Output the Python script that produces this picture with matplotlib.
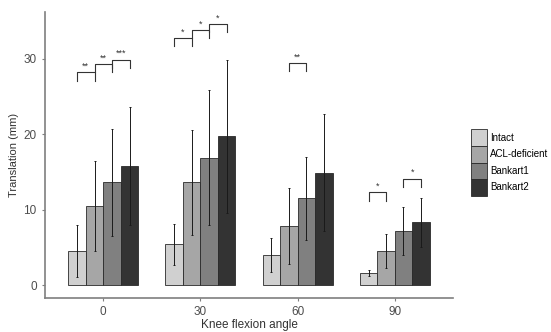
import numpy as np
import matplotlib.pyplot as plt
from matplotlib.patches import Patch

plt.rcParams['font.family'] = ['Liberation Sans', 'DejaVu Sans']

angles = ['0', '30', '60', '90']
groups = ['Intact', 'ACL-deficient', 'Bankart1', 'Bankart2']
colors = ['#d0d0d0', '#a6a6a6', '#808080', '#333333']

intact = [4.45, 5.4, 4.0, 1.6]
acl = [10.45, 13.6, 7.8, 4.5]
bankart1 = [13.6, 16.9, 11.5, 7.2]
bankart2 = [15.8, 19.7, 14.9, 8.3]

intact_sd = [3.45, 2.7, 2.3, 0.45]
acl_sd = [6.0, 7.0, 5.0, 2.25]
bankart1_sd = [7.1, 9.0, 5.5, 3.2]
bankart2_sd = [7.8, 10.2, 7.8, 3.25]

# (angle index, left bar, right bar, bracket height, label)
brackets = [
    (0, 0, 1, 28.2, '**'),
    (0, 1, 2, 29.3, '**'),
    (0, 2, 3, 29.9, '***'),
    (1, 0, 1, 32.75, '*'),
    (1, 1, 2, 33.8, '*'),
    (1, 2, 3, 34.6, '*'),
    (2, 1, 2, 29.45, '**'),
    (3, 0, 1, 12.3, '*'),
    (3, 2, 3, 14.1, '*'),
]

means = [intact, acl, bankart1, bankart2]
sds = [intact_sd, acl_sd, bankart1_sd, bankart2_sd]

fig = plt.figure(figsize=(5.51, 3.32), dpi=100)
ax = fig.add_axes([0.0817, 0.1033, 0.7405, 0.8606])

x = np.arange(1, len(angles) + 1)
width = 0.18
offsets = (np.arange(4) - 1.5) * width

for i in range(4):
    ax.bar(x + offsets[i], means[i], width, color=colors[i],
           edgecolor='#2a2a2a', linewidth=0.6, label=groups[i], zorder=2)
    ax.errorbar(x + offsets[i], means[i], yerr=sds[i], fmt='none',
                ecolor='#1a1a1a', elinewidth=0.7, capsize=0.8,
                capthick=0.7, zorder=3)

leg_h = 1.1
for g, a, b, h, lab in brackets:
    x1 = x[g] + offsets[a]
    x2 = x[g] + offsets[b]
    ax.plot([x1, x1, x2, x2], [h - leg_h, h, h, h - leg_h],
            color='#333333', lw=0.8, zorder=4)
    ax.text((x1 + x2) / 2, h + 0.2, lab, ha='center', va='bottom',
            fontsize=6.5, color='#333333')

ax.set_xlim(0.4, 4.6)
ax.set_ylim(-1.68, 36.2)
ax.set_xticks(x)
ax.set_xticklabels(angles)
ax.set_yticks([0, 10, 20, 30])
ax.tick_params(labelsize=8.5, colors='#7f7f7f', labelcolor='#4d4d4d',
               length=2.5, width=0.8)
for s in ['top', 'right']:
    ax.spines[s].set_visible(False)
for s in ['left', 'bottom']:
    ax.spines[s].set_color('#7f7f7f')
    ax.spines[s].set_linewidth(1.2)

ax.set_xlabel('Knee flexion angle', fontsize=8.5, color='#333333', labelpad=1)
ax.set_ylabel('Translation (mm)', fontsize=8, color='#333333', labelpad=3)

handles = [Patch(facecolor=colors[i], edgecolor='#2a2a2a', linewidth=0.6,
                 label=groups[i]) for i in range(4)]
fig.legend(handles=handles, loc='upper left', bbox_to_anchor=(0.846, 0.625),
           frameon=False, fontsize=7, handlelength=1.6, handleheight=2.25,
           handletextpad=0.35, labelspacing=0.0, borderpad=0)

fig.savefig('out.png', dpi=100)
